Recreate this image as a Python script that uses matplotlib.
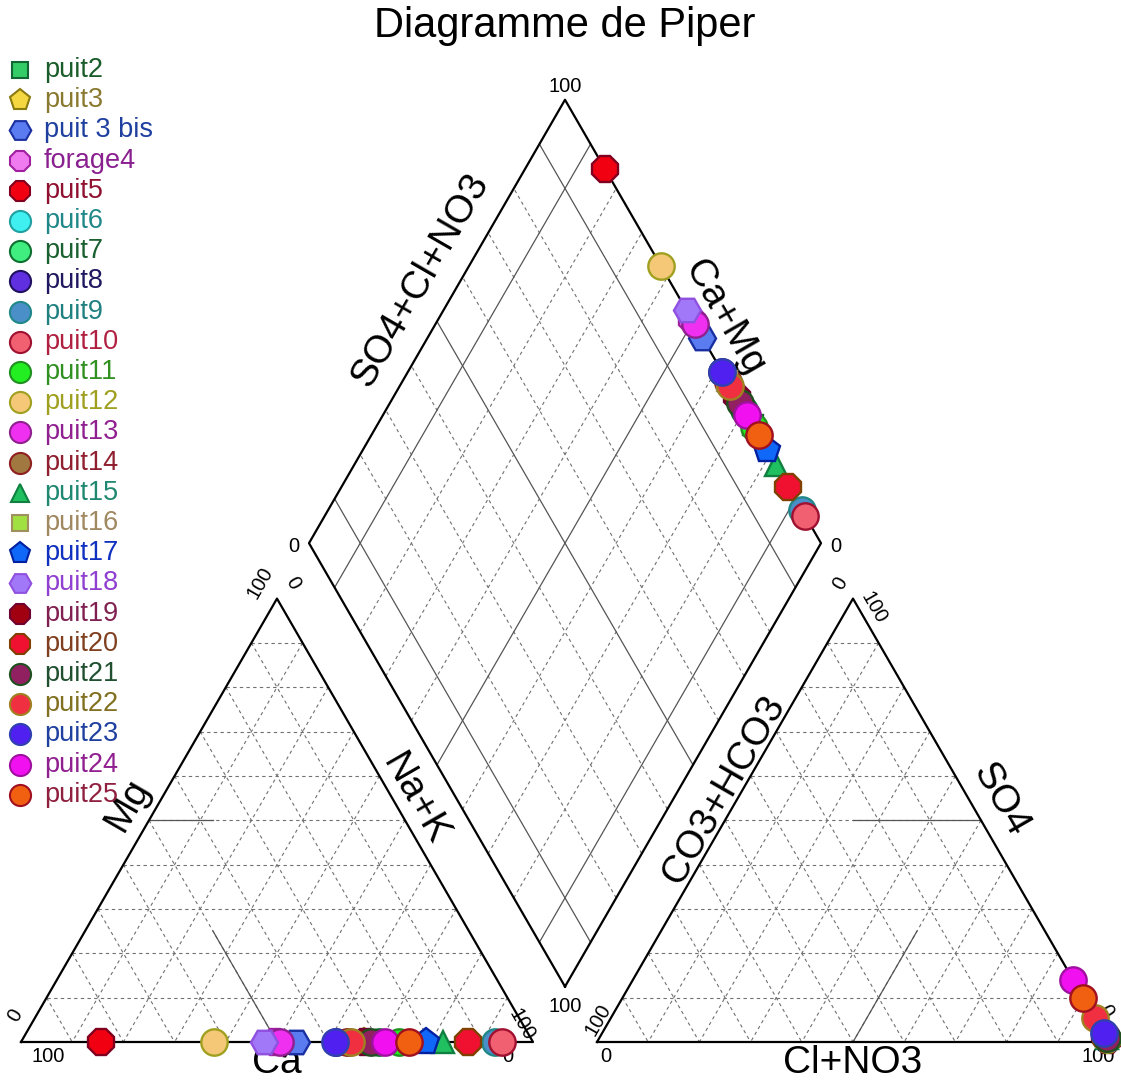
"""Diagramme de Piper - puits (cations / anions / losange)."""
import numpy as np
import matplotlib
matplotlib.use("Agg")
import matplotlib.pyplot as plt

plt.rcParams["font.family"] = ["Liberation Sans", "DejaVu Sans"]

# ---- data (% meq) ----
names = ["puit2", "puit3", "puit 3 bis", "forage4", "puit5", "puit6", "puit7", "puit8",
         "puit9", "puit10", "puit11", "puit12", "puit13", "puit14", "puit15", "puit16",
         "puit17", "puit18", "puit19", "puit20", "puit21", "puit22", "puit23", "puit24",
         "puit25"]
ca = np.array([26.6, 33.0, 46.3, 50.3, 84.4, 36.0, 30.0, 38.5, 7.4, 6.1, 26.2, 62.4, 49.4,
               36.3, 17.6, 36.6, 20.9, 52.5, 32.9, 12.7, 31.7, 35.5, 38.7, 29.0, 24.3])
mg = np.zeros(len(names))
nak = 100 - ca - mg
hco3 = np.zeros(len(names))
so4 = np.array([1.0, 0.8, 1.2, 0.6, 0.5, 1.0, 0.7, 1.4, 0.9, 1.1, 0.8, 0.6, 1.3,
                1.0, 0.9, 1.2, 0.7, 0.8, 1.5, 1.0, 0.9, 5.5, 2.0, 14.0, 10.0])
cl = 100 - hco3 - so4

markers = ["s", "p", "H", "8", "8", "o", "o", "o", "o", "o", "o", "o", "o",
           "o", "^", "s", "p", "H", "8", "8", "o", "o", "o", "o", "o"]
faces = ["#33cc66", "#f5d742", "#5a7cf0", "#f07af0", "#f00010", "#40f0f0", "#40ee80", "#6030e0",
         "#4a8fc8", "#f06070", "#22ee22", "#f5c878", "#f030f0", "#a07840", "#20c060", "#a0e040",
         "#1068f8", "#a078f8", "#a00010", "#f01030", "#902060", "#f03040", "#5020f0", "#f010f0",
         "#f06010"]
edges = ["#116633", "#8a7a10", "#1a30a0", "#a020a0", "#800020", "#20a0a0", "#107030", "#201060",
         "#208888", "#a01030", "#209020", "#a0a020", "#902090", "#902020", "#108040", "#a09060",
         "#0020a0", "#9050e0", "#700030", "#804000", "#205020", "#a08020", "#3040b0", "#a010a0",
         "#a01020"]
text_colors = ["#1a5c2a", "#8a7a30", "#2040a0", "#8a2090", "#901030", "#208888", "#1a6030",
               "#201860", "#208080", "#b02040", "#309020", "#a0a020", "#902090", "#902030",
               "#208870", "#a08860", "#1030c0", "#9040d0", "#802050", "#804020", "#205030",
               "#807020", "#2040a0", "#902090", "#902040"]

# ---- geometry (side = 1) ----
H = np.sqrt(3) / 2
GAP = 0.125
X0 = 1 + GAP                          # right triangle origin
B = np.array([1 + GAP / 2, GAP * H])  # diamond bottom vertex
UL = np.array([-0.5, H])
UR = np.array([0.5, H])


def cation_xy(c, m, n):
    return (n + m / 2) / 100, m / 100 * H


def anion_xy(h, s, c):
    return X0 + (c + s / 2) / 100, s / 100 * H


def diamond_xy(camg, socl):
    p = B[:, None] + np.outer(UL, camg / 100) + np.outer(UR, socl / 100)
    return p[0], p[1]


W, HP = 1121, 1086
fig = plt.figure(figsize=(W / 100, HP / 100), dpi=100)
ax = fig.add_axes([0, 0, 1, 1])
S, OX, OY = 512.0, 21.0, 1042.0
ax.set_xlim(-OX / S, (W - OX) / S)
ax.set_ylim((OY - HP) / S, OY / S)
ax.axis("off")


def px(x, y):
    return (x - OX) / S, (OY - y) / S


dash = dict(color="#707070", lw=0.8, ls=(0, (3, 3)), zorder=1)
solid = dict(color="#555555", lw=0.9, zorder=1)
frame = dict(color="black", lw=1.6, zorder=2)

# ---- grids ----
tri_lines = lambda f: [((100 - f, f, 0), (0, f, 100 - f)),
                       ((f, 100 - f, 0), (f, 0, 100 - f)),
                       ((0, 100 - f, f), (100 - f, 0, f))]
for k in range(1, 10):
    f = k * 10
    for a, b in tri_lines(f):
        xa, ya = cation_xy(*a)
        xb, yb = cation_xy(*b)
        ax.plot([xa, xb], [ya, yb], **dash)
        xa, ya = anion_xy(*a)
        xb, yb = anion_xy(*b)
        ax.plot([xa, xb], [ya, yb], **dash)
    st = solid if f in (10, 50, 90) else dash
    xa, ya = diamond_xy(np.array([f, f]), np.array([0, 100]))
    ax.plot(xa, ya, **st)
    xa, ya = diamond_xy(np.array([0, 100]), np.array([f, f]))
    ax.plot(xa, ya, **st)

# partial solid facies lines
for a, b in [((50, 50, 0), (37.5, 50, 12.5)), ((50, 0, 50), (50, 25, 25))]:
    xa, ya = cation_xy(*a)
    xb, yb = cation_xy(*b)
    ax.plot([xa, xb], [ya, yb], **solid)
for a, b in [((0, 50, 50), (25, 50, 25)), ((50, 0, 50), (25, 25, 50))]:
    xa, ya = anion_xy(*a)
    xb, yb = anion_xy(*b)
    ax.plot([xa, xb], [ya, yb], **solid)

# ---- frames ----
ax.plot([0, 1, 0.5, 0], [0, 0, H, 0], **frame)
ax.plot([X0, X0 + 1, X0 + 0.5, X0], [0, 0, H, 0], **frame)
dx, dy = diamond_xy(np.array([0, 100, 100, 0, 0]), np.array([0, 0, 100, 100, 0]))
ax.plot(dx, dy, **frame)

# ---- points ----
ms = {"s": 14, "p": 19.5, "H": 19.5, "8": 19.5, "o": 19, "^": 16.5}
cx, cy = cation_xy(ca, mg, nak)
axx, ayy = anion_xy(hco3, so4, cl)
ddx, ddy = diamond_xy(ca + mg, so4 + cl)
for i in range(len(names)):
    kw = dict(marker=markers[i], ms=ms[markers[i]], mfc=faces[i], mec=edges[i], mew=1.7,
              ls="none", zorder=5 + i)
    ax.plot(cx[i], cy[i], **kw)
    ax.plot(axx[i], ayy[i], **kw)
    ax.plot(ddx[i], ddy[i], **kw)

# ---- texts ----
ax.text(*px(565, 26), "Diagramme de Piper", fontsize=30, ha="center", va="center")
big = dict(fontsize=28, ha="center", va="center")
ax.text(*px(420, 280), "SO4+Cl+NO3", rotation=60, **big)
ax.text(*px(724, 318), "Ca+Mg", rotation=-60, **big)
ax.text(*px(128, 805), "Mg", rotation=60, **big)
ax.text(*px(415, 800), "Na+K", rotation=-60, **big)
ax.text(*px(277, 1063), "Ca", **big)
ax.text(*px(724, 790), "CO3+HCO3", rotation=60, **big)
ax.text(*px(1000, 800), "SO4", rotation=-60, **big)
ax.text(*px(853, 1063), "Cl+NO3", **big)

sm = dict(fontsize=14.5, ha="center", va="center")
ax.text(*px(48, 1057), "100", **sm)
ax.text(*px(508, 1057), "0", **sm)
ax.text(*px(15, 1015), "0", rotation=60, **sm)
ax.text(*px(260, 583), "100", rotation=60, **sm)
ax.text(*px(293, 583), "0", rotation=-60, **sm)
ax.text(*px(522, 1025), "100", rotation=-60, **sm)
ax.text(*px(606, 1057), "0", **sm)
ax.text(*px(1098, 1057), "100", **sm)
ax.text(*px(598, 1020), "100", rotation=60, **sm)
ax.text(*px(840, 583), "0", rotation=60, **sm)
ax.text(*px(874, 608), "100", rotation=-60, **sm)
ax.text(*px(1106, 1011), "0", rotation=-60, **sm)
ax.text(*px(565, 86), "100", **sm)
ax.text(*px(294, 546), "0", **sm)
ax.text(*px(836, 547), "0", **sm)
ax.text(*px(565, 1006), "100", **sm)

# ---- legend ----
for i, name in enumerate(names):
    ypx = 70 + 30.2 * i
    lx, ly = px(20, ypx)
    ax.plot(lx, ly, marker=markers[i], ms=ms[markers[i]] * 0.8, mfc=faces[i], mec=edges[i],
            mew=1.5, ls="none", zorder=5)
    ax.text(*px(44, ypx), name, color=text_colors[i], fontsize=19.5, ha="left", va="center")

fig.savefig("out.png", dpi=100)
